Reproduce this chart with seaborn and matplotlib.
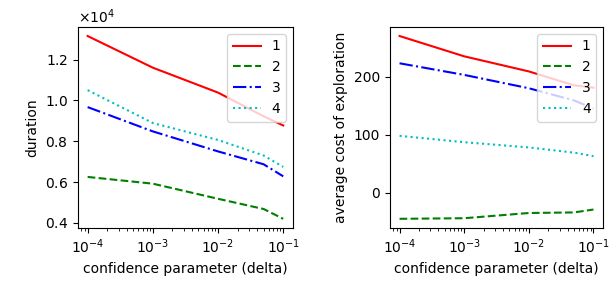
import numpy as np
import pandas as pd
import matplotlib
matplotlib.use("Agg")
import matplotlib.pyplot as plt
import matplotlib.ticker as mticker
import seaborn as sns

delta = [1e-4, 1e-3, 1e-2, 5e-2, 1e-1]
series_names = ["1", "2", "3", "4"]

duration_1 = [13150, 11600, 10380, 9220, 8770]
duration_2 = [6250, 5920, 5180, 4680, 4200]
duration_3 = [9670, 8480, 7500, 6870, 6280]
duration_4 = [10500, 8890, 8060, 7300, 6740]

cost_1 = [270, 235, 209, 185, 181]
cost_2 = [-45, -44, -35, -34, -29]
cost_3 = [223, 203, 180, 159, 145]
cost_4 = [98, 87, 78, 69, 63]

colors = ["r", "g", "b", "c"]
styles = ["-", "--", "-.", ":"]

def frame(vals_list):
    rows = []
    for name, vals in zip(series_names, vals_list):
        for d, v in zip(delta, vals):
            rows.append({"delta": d, "value": v, "series": name})
    return pd.DataFrame(rows)

df_dur = frame([duration_1, duration_2, duration_3, duration_4])
df_cost = frame([cost_1, cost_2, cost_3, cost_4])

fig = plt.figure(figsize=(6.13, 2.86), dpi=100)
ax1 = fig.add_axes([0.127, 0.203, 0.351, 0.703])
ax2 = fig.add_axes([0.636, 0.203, 0.348, 0.703])

for ax, df, ylabel in [(ax1, df_dur, "duration"), (ax2, df_cost, "average cost of exploration")]:
    for name, c, ls in zip(series_names, colors, styles):
        sub = df[df["series"] == name]
        sns.lineplot(data=sub, x="delta", y="value", ax=ax, color=c,
                     linestyle=ls, label=name, linewidth=1.5)
    ax.set_xscale("log")
    ax.set_xlabel("confidence parameter (delta)")
    ax.set_ylabel(ylabel)
    ax.legend(loc="upper right")

fmt = mticker.ScalarFormatter(useMathText=True)
fmt.set_powerlimits((0, 0))
ax1.yaxis.set_major_formatter(fmt)
ax1.set_yticks([4000, 6000, 8000, 10000, 12000])
ax2.set_yticks([0, 100, 200])

fig.savefig("out.png", dpi=100)
